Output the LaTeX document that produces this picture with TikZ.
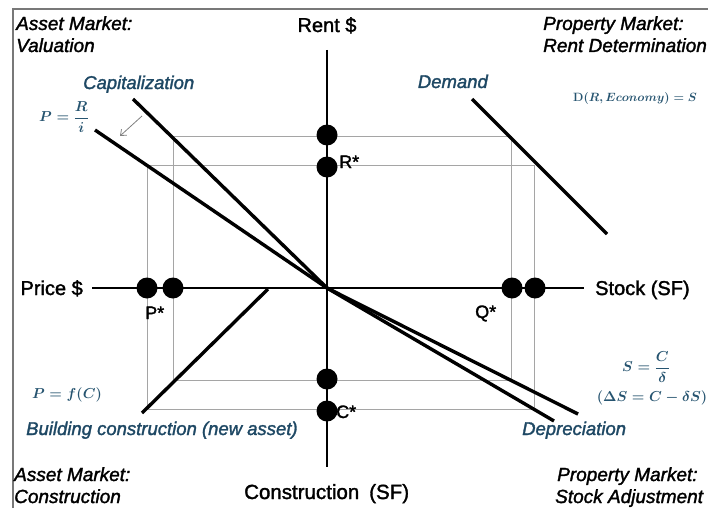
\documentclass[tikz,border=0pt]{standalone}
\usepackage[no-math]{fontspec}
\setmainfont{Liberation Sans}[FakeBold=1.6]
\usetikzlibrary{arrows.meta}
\definecolor{tealc}{RGB}{30,72,100}
\definecolor{eqc}{RGB}{38,84,112}
\definecolor{guidec}{RGB}{165,165,165}
\definecolor{framec}{RGB}{120,120,120}
\begin{document}
\begin{tikzpicture}[x=1pt,y=-1pt,
  axisline/.style={line width=2pt,black},
  curve/.style={line width=3.4pt,black},
  guide/.style={guidec,line width=0.8pt},
  dot/.style={circle,fill=black,minimum size=21pt,inner sep=0pt},
  axislbl/.style={font=\fontsize{20}{22}\selectfont,inner sep=0pt},
  starlbl/.style={font=\fontsize{18}{20}\selectfont,inner sep=0pt},
  corner/.style={font=\fontsize{19}{22}\selectfont\itshape,inner sep=0pt},
  tlabel/.style={text=tealc,font=\fontsize{18.5}{21}\selectfont\itshape,inner sep=0pt},
  eq/.style={text=eqc,font=\fontsize{13.5}{16}\selectfont\boldmath,inner sep=0pt},
  eqsmall/.style={eq,font=\fontsize{12}{14}\selectfont\boldmath},
  eqfrac/.style={eq,font=\fontsize{14.5}{16}\selectfont\boldmath}
]
\useasboundingbox (0,0) rectangle (708,508);
\fill[white] (0,0) rectangle (708,508);
% frame
\draw[framec,line width=1.2pt] (13,508) -- (13,9) -- (708,9);

% axis coordinates
\coordinate (O) at (327,288);
\coordinate (vt) at (327,50);
\coordinate (vb) at (327,467);
\coordinate (hl) at (92,288);
\coordinate (hr) at (584,288);

% guide rectangles
\coordinate (in1) at (173,136);
\coordinate (in2) at (511,380);
\coordinate (out1) at (147,165);
\coordinate (out2) at (534,409);
\draw[guide] (in1) rectangle (in2);
\draw[guide] (out1) rectangle (out2);

% axes
\draw[axisline] (vt) -- (vb);
\draw[axisline] (hl) -- (hr);

% axis labels
\node[axislbl,anchor=base] (rent) at (327,32) {Rent \$};
\node[axislbl,anchor=base east] (price) at (83,295) {Price \$};
\node[axislbl,anchor=base west] (stock) at (595,295) {Stock (SF)};
\node[axislbl,anchor=base west,font=\fontsize{20.5}{22}\selectfont] (constr) at (244,499) {Construction\hspace{10pt}(SF)};

% curves
\coordinate (cap1) at (133,99);
\coordinate (cap2) at (95,130);
\coordinate (dep1) at (578,414);
\coordinate (dep2) at (554,421);
\coordinate (dem1) at (472,99);
\coordinate (dem2) at (607,234);
\coordinate (bld1) at (268,289);
\coordinate (bld2) at (142,413);
\draw[curve] (cap1) -- (O);
\draw[curve] (cap2) -- (O);
\draw[curve] (O) -- (dep1);
\draw[curve] (O) -- (dep2);
\draw[curve] (dem1) -- (dem2);
\draw[curve] (bld1) -- (bld2);

% small arrow
\coordinate (ar1) at (142,116);
\coordinate (ar2) at (120,136);
\draw[gray,line width=0.8pt,-{Straight Barb[length=5pt,width=8pt]}] (ar1) -- (ar2);

% dots
\node[dot] (r0) at (327,135) {};
\node[dot] (rs) at (327,167) {};
\node[dot] (c0) at (327,379) {};
\node[dot] (cs) at (327,411) {};
\node[dot] (ps) at (147,288) {};
\node[dot] (p0) at (173,288) {};
\node[dot] (qs) at (512,288) {};
\node[dot] (q0) at (535,288) {};

% star labels
\node[starlbl,anchor=base west] (rlbl) at (339,168) {R*};
\node[starlbl,anchor=base west] (plbl) at (145,319) {P*};
\node[starlbl,anchor=base west] (qlbl) at (475,318) {Q*};
\node[starlbl,anchor=base west] (clbl) at (336,418) {C*};

% corner labels
\node[corner,anchor=base west] (tla) at (16,30) {Asset Market:};
\node[corner,anchor=base west] (tlb) at (16,52) {Valuation};
\node[corner,anchor=base west] (tra) at (543,30) {Property Market:};
\node[corner,anchor=base west] (trb) at (543,52) {Rent Determination};
\node[corner,anchor=base west] (bla) at (14,481) {Asset Market:};
\node[corner,anchor=base west] (blb) at (14,503) {Construction};
\node[corner,anchor=base west] (bra) at (557,481) {Property Market:};
\node[corner,anchor=base west] (brb) at (555,503) {Stock Adjustment};

% teal labels
\node[tlabel,anchor=base west] (capl) at (83,89) {Capitalization};
\node[tlabel,anchor=base east] (deml) at (488,88) {Demand};
\node[tlabel,anchor=base west] (bldl) at (26,435) {Building construction (new asset)};
\node[tlabel,anchor=base west] (depl) at (522,435) {Depreciation};

% equations
\node[eqfrac] (eq1) at (64,117) {$\displaystyle P=\frac{R}{i}$};
\node[eqsmall] (eq2) at (635,99) {$\mathrm{D}(R,Economy)=S$};
\node[eqfrac] (eq3) at (646,367) {$\displaystyle S=\frac{C}{\delta}$};
\node[eq] (eq4) at (652,398) {$(\Delta S=C-\delta S)$};
\node[eq] (eq5) at (67,395) {$P=f(C)$};
\end{tikzpicture}
\end{document}
